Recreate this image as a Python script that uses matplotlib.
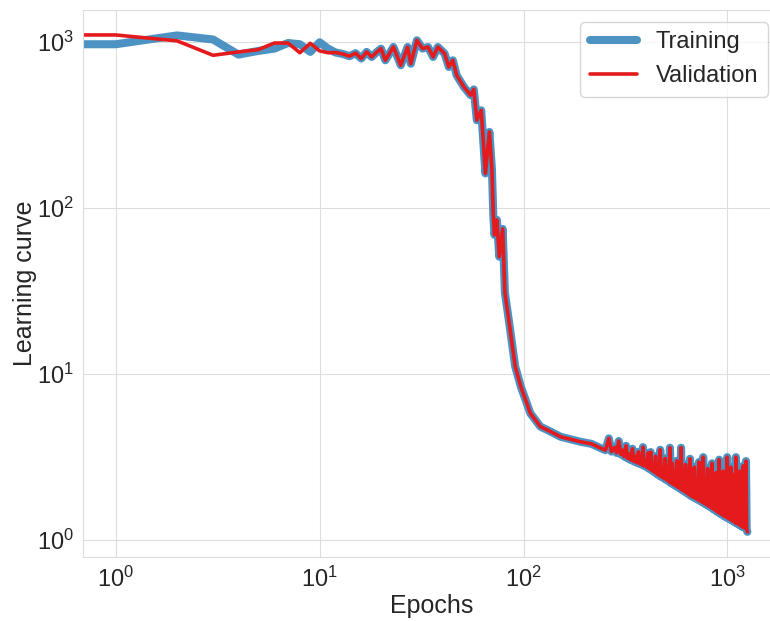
import numpy as np
import matplotlib
matplotlib.use("Agg")
import matplotlib.pyplot as plt
import seaborn as sns

# early epochs, where the two curves differ
early_epochs = [0, 1, 2, 3, 4, 5, 6, 7, 8, 9, 10, 11]
train_early = [973, 973, 1100, 1040, 843, 887, 916, 990, 973, 875, 1000, 916]
val_early = [1107, 1107, 1020, 835, 875, 903, 990, 990, 865, 986, 887, 865]

# shared part: plateau, drop and slow decay
mid_epochs = [12, 13, 14, 15, 16, 17, 18, 19, 20, 21, 23, 25, 27, 28, 30, 32, 34, 36,
              38, 41, 43, 45, 47, 51, 55, 57, 59, 62, 65, 68, 70, 71, 72, 74, 76, 79,
              81, 86, 91, 97, 108, 121, 131, 152, 190, 215, 240, 252]
mid_values = [867, 850, 824, 860, 798, 875, 816, 870, 916, 779, 937, 727, 937, 743,
              1028, 916, 937, 816, 937, 855, 710, 779, 632, 538, 480, 520, 339, 389,
              162, 288, 170, 93, 69, 85, 51, 75, 31, 18.4, 11.1, 8.4, 5.8, 4.82, 4.6,
              4.19, 3.91, 3.8, 3.57, 3.48]

# noisy tail
tail_epochs = [262, 270, 280, 286, 293, 300, 306, 312, 318, 324, 330, 336, 342, 348,
               354, 360, 366, 372, 378, 381, 385, 390, 396, 402, 408, 414, 420, 426,
               432, 438, 444, 450, 456, 462, 468, 474, 481, 488, 495, 502, 509, 516,
               522, 529, 536, 543, 550, 557, 564, 571, 578, 585, 592, 599, 607, 615,
               623, 631, 639, 647, 655, 663, 671, 679, 688, 697, 706, 715, 724, 733,
               742, 751, 760, 769, 779, 789, 799, 809, 819, 829, 839, 849, 859, 869,
               879, 889, 899, 904, 910, 920, 931, 942, 953, 964, 975, 986, 997, 1008,
               1019, 1030, 1041, 1052, 1063, 1074, 1085, 1096, 1100, 1110, 1122, 1134,
               1146, 1158, 1170, 1182, 1194, 1206, 1218, 1222, 1232, 1242, 1252]
tail_values = [4.10, 3.41, 3.62, 3.35, 3.95, 3.28, 3.48, 3.18, 3.70, 3.10, 3.30, 3.03,
               3.55, 2.97, 3.20, 2.92, 3.40, 2.87, 3.05, 2.84, 3.63, 2.80, 3.00, 2.74,
               3.35, 2.68, 3.39, 2.62, 2.85, 2.56, 3.20, 2.50, 2.80, 2.45, 3.50, 2.40,
               2.70, 2.35, 3.10, 2.30, 2.65, 2.25, 3.60, 2.20, 2.90, 2.16, 2.55, 2.12,
               3.00, 2.08, 2.50, 2.04, 3.60, 2.00, 2.60, 1.96, 2.85, 1.92, 2.40, 1.88,
               3.09, 1.84, 2.45, 1.81, 2.75, 1.78, 2.30, 1.75, 2.95, 1.72, 2.35, 1.69,
               3.16, 1.66, 2.25, 1.63, 2.70, 1.60, 2.20, 1.57, 2.90, 1.54, 2.15, 1.51,
               2.55, 1.48, 2.10, 1.47, 3.05, 1.44, 2.05, 1.42, 2.60, 1.39, 2.00, 1.37,
               3.16, 1.35, 2.10, 1.33, 2.75, 1.31, 1.95, 1.29, 2.50, 1.27, 3.16, 1.26,
               1.95, 1.24, 2.60, 1.22, 1.90, 1.20, 2.80, 1.19, 1.90, 1.18, 2.99, 1.16,
               1.12]

train_x = early_epochs + mid_epochs + tail_epochs
train_y = train_early + mid_values + tail_values
val_x = early_epochs + mid_epochs + tail_epochs
val_y = val_early + mid_values + tail_values

sns.set_style("whitegrid", {'grid.color': '#dddddd', 'axes.edgecolor': '#dddddd'})
plt.rcParams['font.family'] = ['Liberation Sans', 'DejaVu Sans']

fig = plt.figure(figsize=(7.7, 6.21), dpi=100)
ax = fig.add_axes([0.1084, 0.1035, 0.904, 0.880])

ax.plot(train_x, train_y, color='#4c92c3', lw=5.8, solid_capstyle='round',
        solid_joinstyle='round', label='Training')
ax.plot(val_x, val_y, color='#e41a1c', lw=2.6, label='Validation')

ax.set_xscale('log')
ax.set_yscale('log')
ax.set_xlim(0.695, 1800)
ax.set_ylim(0.793, 1560)

ax.set_xlabel('Epochs', fontsize=18, labelpad=2)
ax.set_ylabel('Learning curve', fontsize=18, labelpad=0)
ax.tick_params(labelsize=17)
ax.legend(loc='upper right', fontsize=17)

fig.savefig('out.png', dpi=100)
